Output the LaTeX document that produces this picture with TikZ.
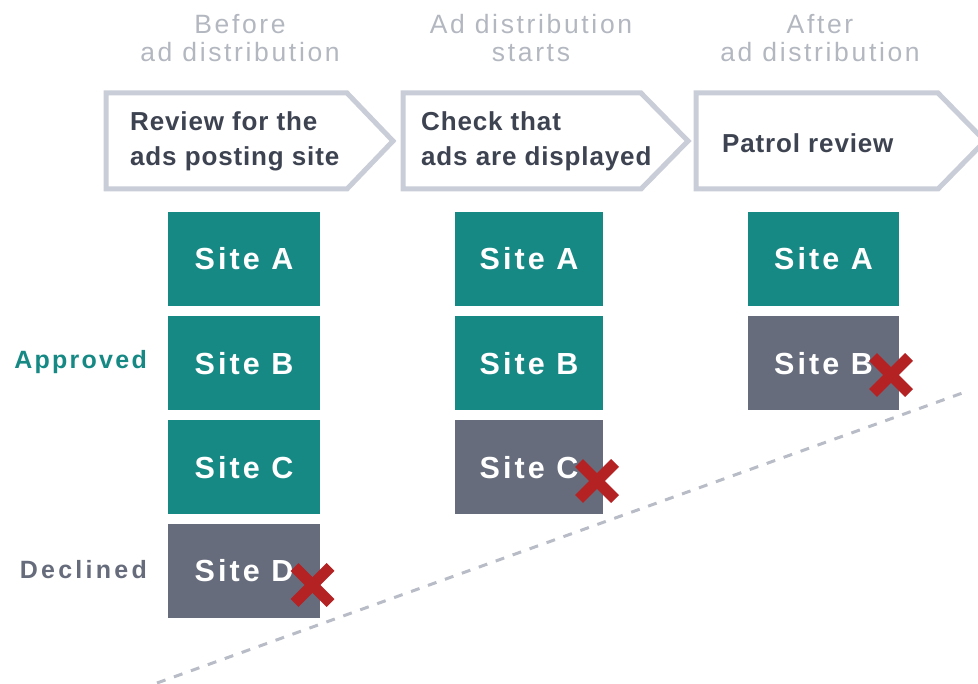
\documentclass[tikz,border=0pt]{standalone}
\usepackage{fontspec}
\setmainfont{Liberation Sans}
\newfontfamily\hdrfont[LetterSpace=10]{Liberation Sans}
\newfontfamily\stepfont[LetterSpace=3.3]{Liberation Sans}
\newfontfamily\sitefont[LetterSpace=10]{Liberation Sans}
\newfontfamily\lblfont[LetterSpace=9]{Liberation Sans}
\newfontfamily\lblfontb[LetterSpace=13]{Liberation Sans}
\definecolor{teal1}{HTML}{178985}
\definecolor{slate1}{HTML}{666C7B}
\definecolor{red1}{HTML}{B52224}
\definecolor{frame1}{HTML}{C9CDD7}
\definecolor{hdr1}{HTML}{B3B7C0}
\definecolor{txt1}{HTML}{3D4351}
\definecolor{dash1}{HTML}{B8BCC6}
\begin{document}
\begin{tikzpicture}[x=1pt,y=-1pt,
  hdr/.style={text=hdr1, align=center, font=\hdrfont\fontsize{26.5}{28}\selectfont, inner sep=0pt},
  stepframe/.style={draw=frame1, line width=5pt, fill=white, line join=miter},
  steptxt/.style={text=txt1, align=left, anchor=west, font=\stepfont\bfseries\fontsize{26}{35}\selectfont, inner sep=0pt},
  sitebox/.style={minimum width=#1, minimum height=94pt, inner sep=0pt, text=white, font=\sitefont\bfseries\fontsize{30.5}{30}\selectfont},
  ok/.style={sitebox=#1, fill=teal1},
  no/.style={sitebox=#1, fill=slate1},
  xmark/.style={draw=red1, line width=11pt},
  lbl/.style={anchor=east, inner sep=0pt, font=\lblfont\bfseries\fontsize{25}{26}\selectfont}
]
\useasboundingbox (0,0) rectangle (978,684);
\clip (0,0) rectangle (978,684);

% dashed divider
\coordinate (d1) at (157,683);
\coordinate (d2) at (968,391);
\draw[dash1, line width=3pt, dash pattern=on 9pt off 9pt] (d1) -- (d2);

% headers
\node[hdr] (h1) at (240,38) {Before\\ad distribution};
\node[hdr] (h2) at (531,38) {Ad distribution\\starts};
\node[hdr] (h3) at (820,38) {After\\ad distribution};

% step arrows
\draw[stepframe] (106,93) -- (347,93) -- (393,141) -- (347,189) -- (106,189) -- cycle;
\draw[stepframe] (403,93) -- (641,93) -- (688,141) -- (641,189) -- (403,189) -- cycle;
\draw[stepframe] (696,93) -- (938,93) -- (985,141) -- (938,189) -- (696,189) -- cycle;
\node[steptxt] (s1) at (130,141) {Review for the\\ads posting site};
\node[steptxt] (s2) at (421,141) {Check that\\ads are displayed};
\node[steptxt] (s3) at (722,143) {Patrol review};

% column 1
\node[ok=152pt] (a1) at (244,259) {Site A};
\node[ok=152pt] (b1) at (244,363.5) {Site B};
\node[ok=152pt] (c1) at (244,467.5) {Site C};
\node[no=152pt] (d1b) at (244,571) {Site D};
% column 2
\node[ok=148pt] (a2) at (529,259) {Site A};
\node[ok=148pt] (b2) at (529,363.5) {Site B};
\node[no=148pt] (c2) at (529,467.5) {Site C};
% column 3
\node[ok=151pt] (a3) at (823.5,259) {Site A};
\node[no=151pt] (b3) at (823.5,363.5) {Site B};

% x marks
\foreach \n/\cx/\cy in {xd/312.5/585, xc/597/481, xb/891/375}{
  \coordinate (\n) at (\cx,\cy);
  \draw[xmark] ([shift={(-18,-18)}]\n) -- ([shift={(18,18)}]\n);
  \draw[xmark] ([shift={(-18,18)}]\n) -- ([shift={(18,-18)}]\n);
}

% labels
\node[lbl, text=teal1] (ap) at (147,362) {Approved};
\node[lbl, text=slate1, font=\lblfontb\bfseries\fontsize{25}{26}\selectfont] (de) at (147,570) {Declined};
\end{tikzpicture}
\end{document}
